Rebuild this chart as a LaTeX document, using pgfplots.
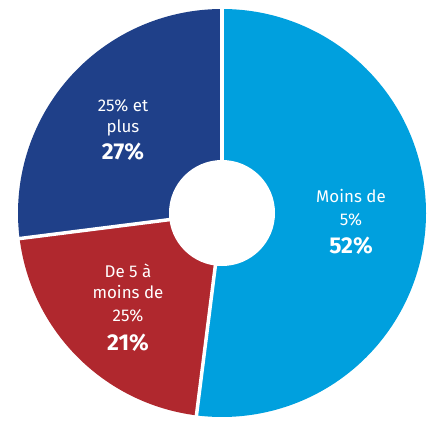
\documentclass[border=0pt]{standalone}
\usepackage{pgfplots}
\usepackage{pgfplotstable}
\pgfplotsset{compat=1.18}
\usepackage{fontspec}
\setmainfont{Fira Sans}
\definecolor{cLight}{RGB}{0,160,222}
\definecolor{cRed}{RGB}{176,40,46}
\definecolor{cNavy}{RGB}{31,64,137}
\pgfplotstableread{
share
52
21
27
}\shares
\pgfplotstablegetelem{0}{share}\of\shares \let\sA\pgfplotsretval
\pgfplotstablegetelem{1}{share}\of\shares \let\sB\pgfplotsretval
\pgfplotstablegetelem{2}{share}\of\shares \let\sC\pgfplotsretval
\pgfmathsetmacro{\aZero}{90}
\pgfmathsetmacro{\aOne}{90-3.6*\sA}
\pgfmathsetmacro{\aTwo}{\aOne-3.6*\sB}
\pgfmathsetmacro{\aThree}{\aTwo-3.6*\sC}
\begin{document}
\begin{tikzpicture}
\begin{axis}[
  width=436bp, height=418bp, scale only axis,
  xmin=0, xmax=436, ymin=0, ymax=418,
  hide axis, clip=false,
]
\addplot[draw=none] coordinates {(0,0) (436,418)};
\def\R{204bp}
\fill[cLight] (axis cs:222,205) -- ++(\aZero:\R) arc[start angle=\aZero, end angle=\aOne, radius=\R] -- cycle;
\fill[cRed] (axis cs:222,205) -- ++(\aOne:\R) arc[start angle=\aOne, end angle=\aTwo, radius=\R] -- cycle;
\fill[cNavy] (axis cs:222,205) -- ++(\aTwo:\R) arc[start angle=\aTwo, end angle=\aThree, radius=\R] -- cycle;
\draw[white, line width=3.5bp] (axis cs:222,205) -- ++(\aZero:210bp);
\draw[white, line width=3.5bp] (axis cs:222,205) -- ++(\aOne:210bp);
\draw[white, line width=3.5bp] (axis cs:222,205) -- ++(\aTwo:210bp);
\fill[white] (axis cs:222,205) circle[radius=53bp];
% labels
\node[white, anchor=base, font=\fontsize{17}{18}\selectfont] at (axis cs:351,215) {Moins de};
\node[white, anchor=base, font=\fontsize{17}{18}\selectfont] at (axis cs:351,193) {5\%};
\node[white, anchor=base, font=\fontsize{23}{24}\selectfont\bfseries] at (axis cs:351,165) {\sA\%};
\node[white, anchor=base, font=\fontsize{17}{18}\selectfont] at (axis cs:123,306) {25\% et};
\node[white, anchor=base, font=\fontsize{17}{18}\selectfont] at (axis cs:123,285) {plus};
\node[white, anchor=base, font=\fontsize{23}{24}\selectfont\bfseries] at (axis cs:123,258) {\sC\%};
\node[white, anchor=base, font=\fontsize{17}{18}\selectfont] at (axis cs:128,141) {De 5 à};
\node[white, anchor=base, font=\fontsize{17}{18}\selectfont] at (axis cs:128,120) {moins de};
\node[white, anchor=base, font=\fontsize{17}{18}\selectfont] at (axis cs:128,97) {25\%};
\node[white, anchor=base, font=\fontsize{23}{24}\selectfont\bfseries] at (axis cs:128,68) {\sB\%};
\end{axis}
\end{tikzpicture}
\end{document}
